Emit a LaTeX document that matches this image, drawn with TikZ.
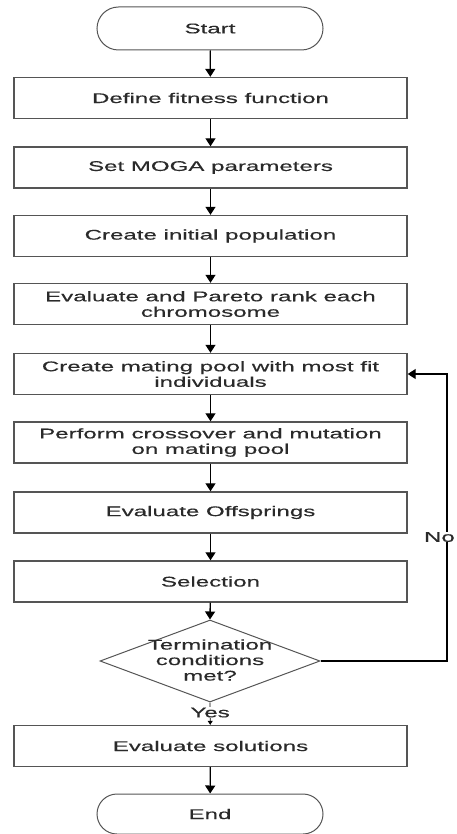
\documentclass[tikz,border=0pt]{standalone}
\usepackage{fontspec}
\setmainfont{Liberation Sans}[FakeStretch=1.72, FakeBold=0.4]
\usetikzlibrary{arrows.meta,shapes.geometric,shapes.misc}
\definecolor{boxgray}{HTML}{555555}
\definecolor{txtgray}{HTML}{2A2A2A}
\begin{document}
\begin{tikzpicture}[x=1pt,y=-1pt,
  every node/.style={font=\fontsize{14}{15.5}\selectfont, text=txtgray},
  procbox/.style={draw=boxgray, line width=1.4pt, minimum width=393pt, minimum height=41pt, inner sep=0pt, align=center},
  termbox/.style={draw=boxgray, line width=1pt, rounded rectangle, minimum width=226pt, minimum height=43pt, inner sep=0pt},
  decbox/.style={draw=boxgray, line width=1pt, diamond, minimum width=220pt, minimum height=82pt, inner sep=0pt},
  flow/.style={draw=black, line width=1.3pt, -{Triangle[width=10pt,length=8pt]}},
  lbl/.style={fill=white, inner sep=1pt}
]
\useasboundingbox (0,0) rectangle (456,834);
\node[termbox] (start) at (210,28.5) {Start};
\node[procbox] (define) at (210.5,98) {Define fitness function};
\node[procbox] (moga) at (210.5,167.5) {Set MOGA parameters};
\node[procbox] (init) at (210.5,236) {Create initial population};
\node[procbox] (pareto) at (210.5,304) {Evaluate and Pareto rank each\\chromosome};
\node[procbox] (mating) at (210.5,374) {Create mating pool with most fit\\individuals};
\node[procbox] (cross) at (210.5,442.5) {Perform crossover and mutation\\on mating pool};
\node[procbox] (offs) at (210.5,512.5) {Evaluate Offsprings};
\node[procbox] (sel) at (210.5,581.5) {Selection};
\node[decbox] (dec) at (210,661) {};
\node[align=center, inner sep=0pt] (dectext) at (210,660) {Termination\\conditions\\met?};
\node[procbox] (evalsol) at (210.5,746) {Evaluate solutions};
\node[termbox, minimum height=40pt] (end) at (210,814) {End};
\coordinate (cr) at (447,661);
\coordinate (ct) at (447,374);
\draw[flow] (start) -- (define);
\draw[flow] (define) -- (moga);
\draw[flow] (moga) -- (init);
\draw[flow] (init) -- (pareto);
\draw[flow] (pareto) -- (mating);
\draw[flow] (mating) -- (cross);
\draw[flow] (cross) -- (offs);
\draw[flow] (offs) -- (sel);
\draw[flow] (sel) -- (dec.north);
\draw[flow, -{Triangle[width=5pt,length=4pt]}, line width=0.8pt] (dec.south) -- node[lbl, pos=0.45] (yes) {Yes} (evalsol);
\draw[flow] (evalsol) -- (end);
\draw[flow] (dec.east) -- (cr) -- (ct) -- (mating.east);
\node[lbl, anchor=east, inner sep=0.5pt] (no) at (455.5,537) {No};
\end{tikzpicture}
\end{document}
